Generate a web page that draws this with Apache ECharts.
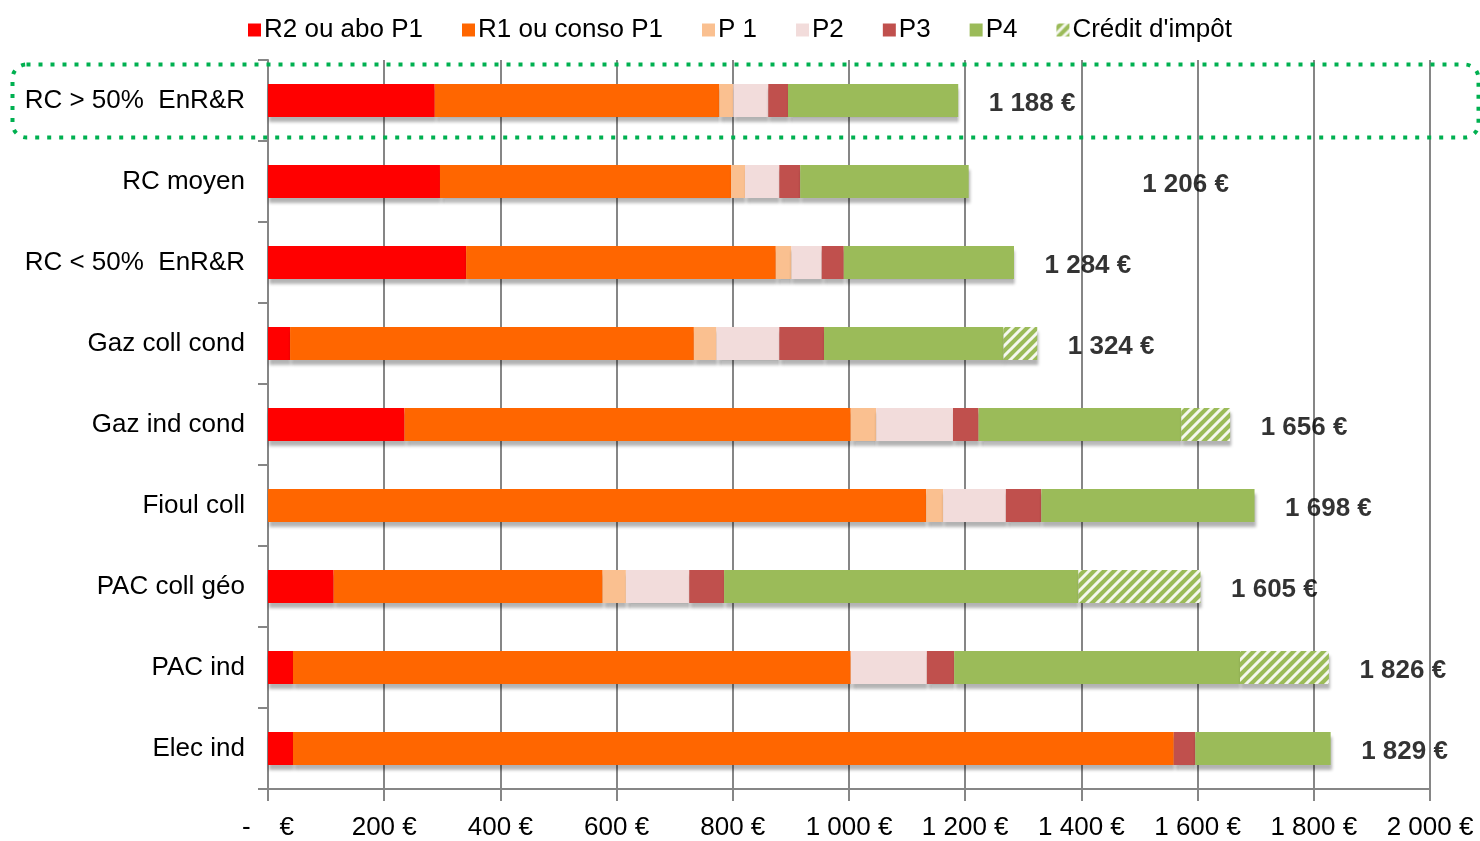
<!DOCTYPE html>
<html>
<head>
<meta charset="utf-8">
<script src="https://cdn.jsdelivr.net/npm/echarts@6/dist/echarts.min.js"></script>
<style>
    html, body { margin: 0; padding: 0; background: #fff; }
    #chart { width: 1480px; height: 841px; }
</style>
</head>
<body>
<div id="chart"></div>
<script>
const categories = ['RC > 50%  EnR&R', 'RC moyen', 'RC < 50%  EnR&R', 'Gaz coll cond', 'Gaz ind cond', 'Fioul coll', 'PAC coll géo', 'PAC ind', 'Elec ind'];
const seriesNames = ['R2 ou abo P1', 'R1 ou conso P1', 'P 1', 'P2', 'P3', 'P4', "Crédit d'impôt"];

const r2 = [287, 296, 341, 38, 235, 0, 113, 43, 43];
const r1 = [490, 501, 533, 695, 768, 1133, 463, 960, 1516];
const p1 = [24, 24, 27, 39, 44, 29, 40, 0, 0];
const p2 = [60, 59, 52, 108, 132, 108, 109, 131, 0];
const p3 = [34, 36, 38, 77, 44, 61, 60, 47, 37];
const p4 = [293, 290, 293, 309, 349, 367, 610, 492, 233];
const credit = [0, 0, 0, 58, 84, 0, 210, 153, 0];
const totals = [1188, 1206, 1284, 1324, 1656, 1698, 1605, 1826, 1829];

const xTicks = [0, 200, 400, 600, 800, 1000, 1200, 1400, 1600, 1800, 2000];

const FONT = "'Liberation Sans', Arial, sans-serif";
const GREY = '#868686';

let euro = v => {
    if (v === 0) return '-    €';
    return String(v).replace(/\B(?=(\d{3})+(?!\d))/g, ' ') + ' €';
};

// hatched green for the tax credit
let hatch = (() => {
    let s = 10;
    let c = document.createElement('canvas');
    c.width = s;
    c.height = s;
    let ctx = c.getContext('2d');
    ctx.fillStyle = '#9BBB59';
    ctx.fillRect(0, 0, s, s);
    ctx.strokeStyle = 'rgba(255,255,255,0.9)';
    ctx.lineWidth = 3;
    ctx.beginPath();
    ctx.moveTo(0, s); ctx.lineTo(s, 0);
    ctx.moveTo(-2, 2); ctx.lineTo(2, -2);
    ctx.moveTo(s - 2, s + 2); ctx.lineTo(s + 2, s - 2);
    ctx.stroke();
    return c;
})();

const colors = ['#FF0000', '#FF6600', '#FAC090', '#F2DCDB', '#C0504D', '#9BBB59', { image: hatch, repeat: 'repeat' }];
const values = [r2, r1, p1, p2, p3, p4, credit];

let chart = echarts.init(document.getElementById('chart'));

let barSeries = seriesNames.map((name, i) => ({
    name: name,
    type: 'bar',
    stack: 'total',
    barWidth: 33,
    itemStyle: {
        color: colors[i],
        shadowColor: 'rgba(0, 0, 0, 0.3)',
        shadowOffsetY: 5,
        shadowOffsetX: 1,
        shadowBlur: 3
    },
    emphasis: { disabled: true },
    data: values[i]
}));

let labelSeries = {
    name: 'total',
    type: 'scatter',
    symbolSize: 1,
    itemStyle: { color: 'rgba(0,0,0,0)' },
    silent: true,
    data: totals.map((t, i) => ({
        value: [t, i],
        label: i === 1 ? { offset: [143, 3] } : undefined
    })),
    label: {
        show: true,
        position: 'right',
        distance: 30,
        offset: [0, 3],
        color: '#000',
        fontFamily: FONT,
        fontSize: 26,
        fontWeight: 'bold',
        formatter: p => euro(totals[p.dataIndex])
    }
};

let option = {
    animation: false,
    backgroundColor: '#fff',
    legend: {
        data: seriesNames,
        top: 12,
        left: 'center',
        icon: 'rect',
        itemWidth: 13,
        itemHeight: 13,
        itemGap: 39,
        textStyle: {
            fontFamily: FONT,
            fontSize: 26,
            color: '#000',
            padding: [0, 0, 0, -2]
        }
    },
    grid: {
        left: 268,
        right: 50,
        top: 60,
        bottom: 49,
        containLabel: false
    },
    xAxis: {
        type: 'value',
        min: 0,
        max: 2000,
        interval: 200,
        axisLine: { show: true, lineStyle: { color: GREY, width: 2 } },
        axisTick: { show: true, length: 12, lineStyle: { color: GREY, width: 2 } },
        splitLine: { show: true, lineStyle: { color: GREY, width: 2 } },
        axisLabel: {
            margin: 26,
            color: '#000',
            fontFamily: FONT,
            fontSize: 26,
            formatter: v => xTicks.includes(v) ? euro(v) : ''
        }
    },
    yAxis: {
        type: 'category',
        inverse: true,
        data: categories,
        axisLine: { show: true, lineStyle: { color: GREY, width: 2 } },
        axisTick: { show: true, length: 10, lineStyle: { color: GREY, width: 2 } },
        axisLabel: {
            margin: 23,
            color: '#000',
            fontFamily: FONT,
            fontSize: 26,
            padding: [6, 0, 0, 0]
        }
    },
    graphic: [{
        type: 'rect',
        left: 10,
        top: 62,
        shape: { width: 1466, height: 73, r: 14 },
        style: {
            fill: 'none',
            stroke: '#00B050',
            lineWidth: 4,
            lineDash: [4, 8]
        },
        z: 100
    }],
    series: barSeries.concat([labelSeries])
};

chart.setOption(option);
</script>
</body>
</html>
